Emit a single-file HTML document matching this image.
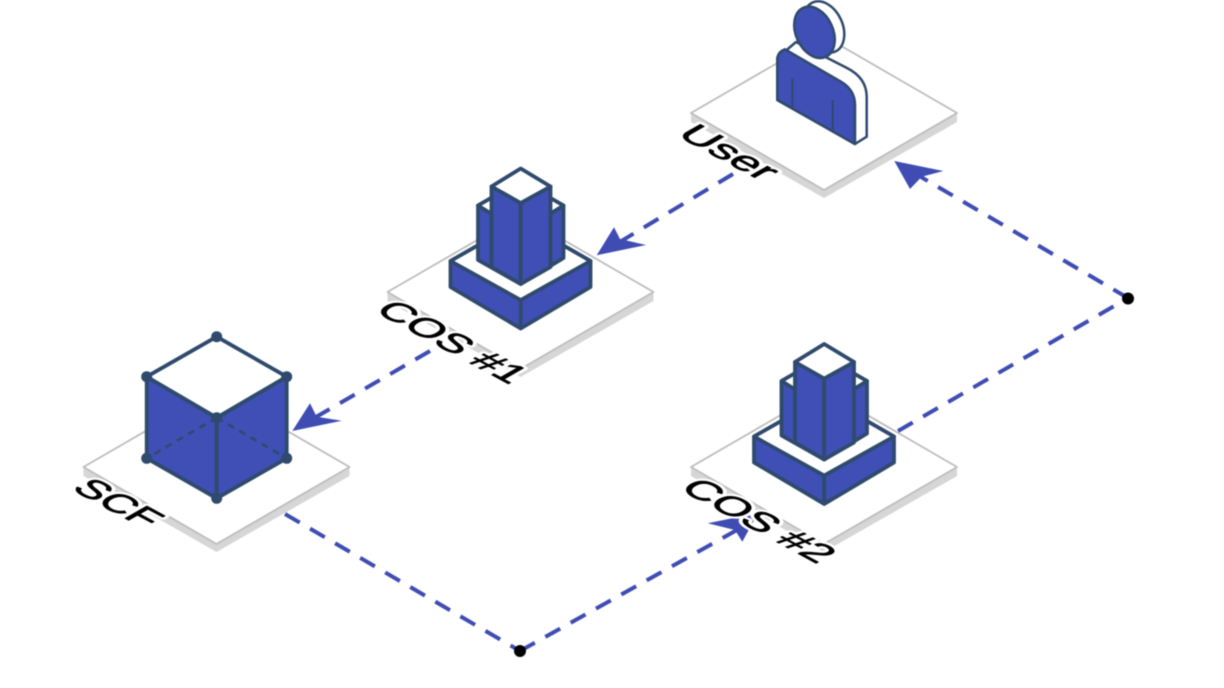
<!DOCTYPE html>
<html>
<head>
<meta charset="utf-8">
<style>
html,body{margin:0;padding:0;background:#fff;width:1224px;height:688px;overflow:hidden}
svg{display:block;filter:blur(.4px)}
text{font-family:"Liberation Sans",sans-serif;font-size:40px;stroke-linejoin:round}
.h{fill:#fff;stroke:#fff;stroke-width:7px}
.f{fill:#000;stroke:#000;stroke-width:.9px}
.s{fill:#d6d6d6}
.p{fill:#fff;stroke:#bdbdbd;stroke-width:1.8;stroke-linejoin:round}
.l{fill:none;stroke:#3f4db3;stroke-width:4;stroke-dasharray:17 12}
.a{fill:#3f4db3}
.b{fill:#3f4fb5;stroke:#2f4a6d;stroke-width:3.8;stroke-linejoin:round}
.w{fill:#fff;stroke:#2f4a6d;stroke-width:3.8;stroke-linejoin:round}
.t{fill:#3f4fb5;stroke:#2f4a6d;stroke-width:2.5;stroke-linejoin:round}
.u{fill:#fff;stroke:#2f4a6d;stroke-width:2.5;stroke-linejoin:round}
.n{fill:#2f4a6d}
</style>
</head>
<body>
<svg width="1224" height="688" viewBox="0 0 1224 688" xmlns="http://www.w3.org/2000/svg">
<defs>
<g id="plat">
<polygon class="s" points="-133,0 0,77 133,0 133,9 0,85 -133,9"/>
<polygon class="p" points="-133,0 0,-77 133,0 0,77"/>
</g>
<g id="tower">
<polygon class="b" points="450.5,261 520.7,221 590.5,261 590.5,287 520.7,328.5 450.5,287"/>
<polygon class="w" points="450.5,261 520.7,221 590.5,261 520.7,300"/>
<line x1="520.7" y1="300" x2="520.7" y2="328.5" stroke="#2f4a6d" stroke-width="3.8"/>
<polygon class="b" points="478,205.5 520.7,181 563.5,205.5 563.5,258 520.7,284 478,260"/>
<polygon class="w" points="478,205.5 520.7,181 563.5,205.5 520.7,232"/>
<polygon class="b" points="491.5,186.5 520.7,203 520.7,284 491.5,267"/>
<polygon class="b" points="550.5,186.5 520.7,203 520.7,284 550.5,267"/>
<polygon class="w" points="520.7,168.5 550.5,186.5 520.7,203 491.5,186.5"/>
</g>
</defs>

<use href="#plat" x="824" y="113"/>
<use href="#plat" x="520.5" y="292"/>
<use href="#plat" x="216.5" y="467"/>
<use href="#plat" x="824" y="467"/>

<line class="l" x1="733" y1="174" x2="618" y2="243"/>
<polygon class="a" points="596.7,255.3 614,227.3 620,239 646,245"/>
<line class="l" x1="430" y1="351" x2="316" y2="417"/>
<polygon class="a" points="292.3,431 310,403.3 316.7,416.7 341.7,420.7"/>
<line class="l" x1="285" y1="514" x2="520" y2="651"/>
<line class="l" x1="520" y1="651" x2="737" y2="530"/>
<polygon class="a" points="758,513 742.3,541.7 735,530 707.7,523.3"/>
<line class="l" x1="898" y1="431" x2="1128" y2="298"/>
<line class="l" x1="1128" y1="298" x2="921" y2="177"/>
<polygon class="a" points="894.3,161 910,189 921.7,176.7 943.3,171"/>
<circle cx="520" cy="651" r="6" fill="#000"/>
<circle cx="1128" cy="298.5" r="6" fill="#000"/>

<!-- User -->
<path class="u" d="M796,42 L847,68 Q866.7,78 866.7,97 L866.7,136.7 L855,144 L777.3,100 L777.3,58 Z"/>
<path class="t" d="M777.3,100 L777.3,60 Q777.3,52 785,49.3 L841,81.7 Q855,90 855,105 L855,144 Z"/>
<path d="M792.3,78.3 V108 M832.7,100 V131.7" stroke="#2f4a6d" stroke-width="2" fill="none"/>
<ellipse class="u" cx="824" cy="27" rx="18.5" ry="27" transform="rotate(-25 824 27)"/>
<ellipse class="t" cx="814.5" cy="32.3" rx="18.5" ry="27" transform="rotate(-25 814.5 32.3)"/>

<!-- Towers -->
<use href="#tower"/>
<use href="#tower" x="303.5" y="175.5"/>

<!-- SCF cube -->
<polygon class="b" points="146.7,376.7 216.7,417.7 216.7,498.3 146.7,458.3"/>
<polygon class="b" points="286.7,376.7 216.7,417.7 216.7,498.3 286.7,458.3"/>
<polygon class="w" points="216.7,336.7 286.7,376.7 216.7,417.7 146.7,376.7"/>
<path d="M216.7,417.7 L146.7,458.3 M216.7,417.7 L286.7,458.3" stroke="#2f4a6d" stroke-width="2.6" stroke-dasharray="7 6" fill="none"/>
<g class="n">
<circle cx="216.7" cy="336.7" r="5.5"/>
<circle cx="146.7" cy="376.7" r="5.5"/>
<circle cx="286.7" cy="376.7" r="5.5"/>
<circle cx="216.7" cy="417.7" r="5.5"/>
<circle cx="146.7" cy="458.3" r="5.5"/>
<circle cx="286.7" cy="458.3" r="5.5"/>
<circle cx="216.7" cy="498.3" r="5.5"/>
</g>

<!-- Labels -->
<g transform="matrix(1.02,.55,-.79,.45,675.5,135)">
<text class="h">User</text>
<text class="f">User</text>
</g>
<g transform="matrix(.96,.52,-.79,.45,373.5,311)">
<text class="h">COS #1</text>
<text class="f">COS #1</text>
</g>
<g transform="matrix(.98,.53,-.79,.45,678.5,489)">
<text class="h">COS #2</text>
<text class="f">COS #2</text>
</g>
<g transform="matrix(.93,.5,-.79,.45,70.5,489)">
<text class="h">SCF</text>
<text class="f">SCF</text>
</g>
</svg>
</body>
</html>
